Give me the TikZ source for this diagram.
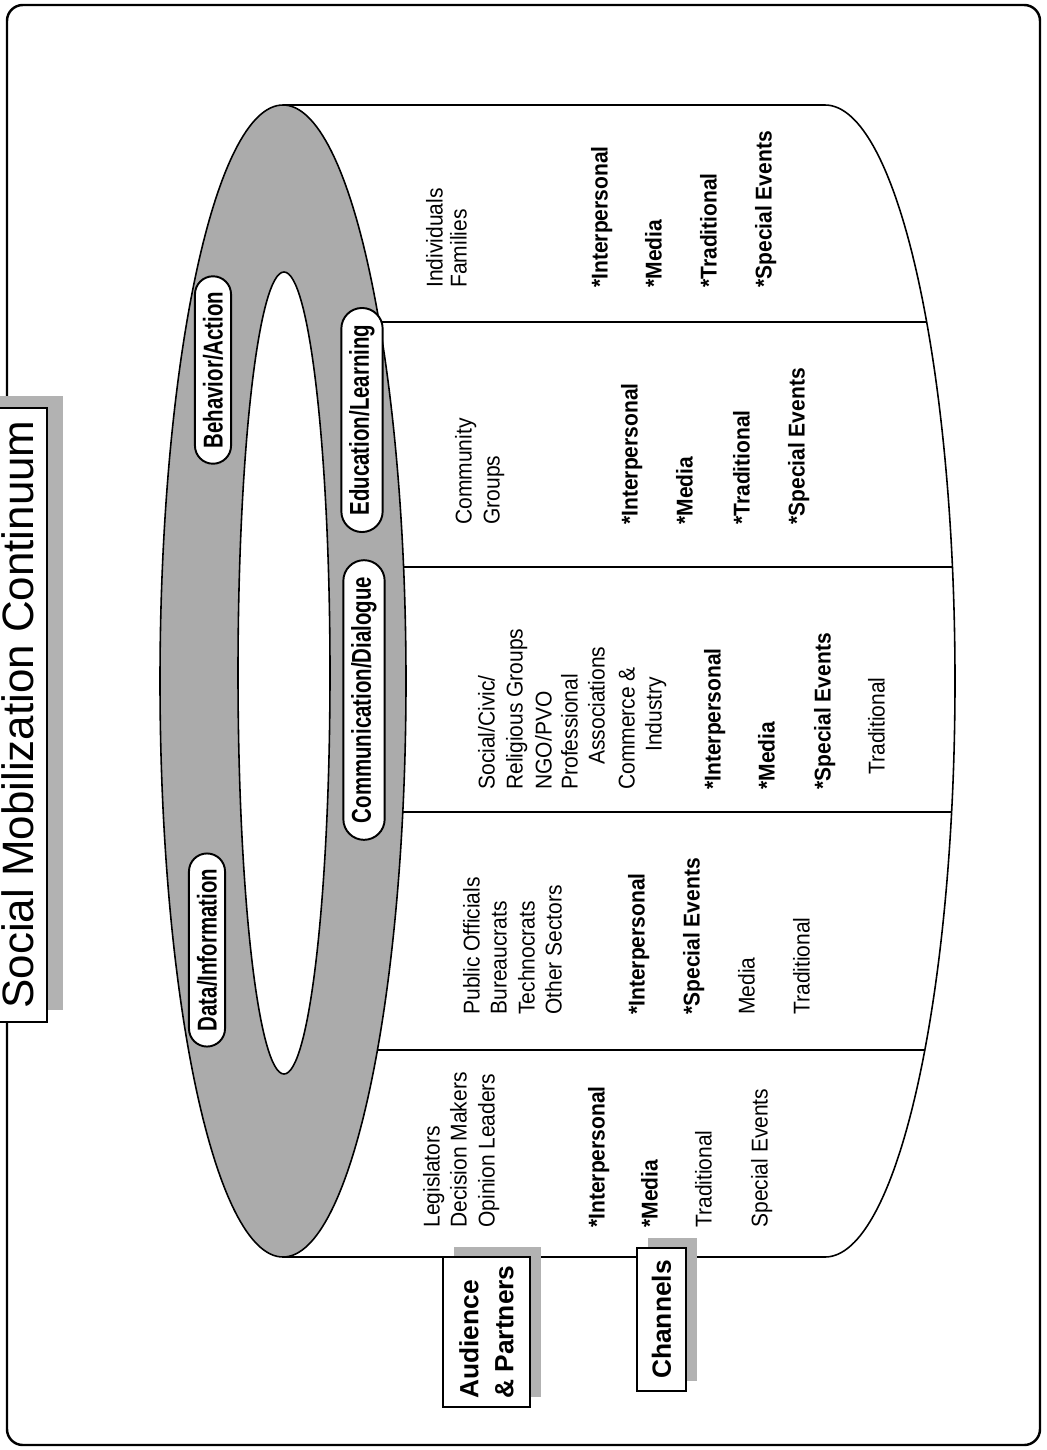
\documentclass[tikz,border=0pt]{standalone}
\usepackage{fontspec}
\setmainfont{Liberation Sans}
\newfontfamily\bodyf[FakeStretch=0.92]{Liberation Sans}
\newfontfamily\labf[FakeStretch=0.75]{Liberation Sans}
\usetikzlibrary{shapes.misc}
\begin{document}
\begin{tikzpicture}[x=0.02cm,y=-0.02cm,
  every node/.style={inner sep=0pt},
  txt/.style={rotate=90,anchor=mid west,font=\bodyf\fontsize{13}{15}\selectfont},
  btxt/.style={txt,font=\bodyf\bfseries\fontsize{13}{15}\selectfont},
  ringlab/.style={rotate=90,rounded rectangle,draw,line width=1.1pt,fill=white,
     inner xsep=7pt,inner ysep=4.5pt,font=\labf\bfseries\fontsize{15.5}{18}\selectfont},
  tagtxt/.style={rotate=90,align=left,font=\bfseries\fontsize{15}{20}\selectfont},
  shadowfill/.style={fill=black!30},
  ringfill/.style={fill=black!33},
  outline/.style={line width=0.9pt},
]
\useasboundingbox (0,0) rectangle (1046,1450);
% frame
\draw[line width=1.4pt,rounded corners=9pt] (7,5) rectangle (1040,1445);
% title box
\fill[shadowfill] (-14,396) rectangle (63,1010);
\draw[line width=1.3pt,fill=white] (-30,408) rectangle (47,1022);
\node[rotate=90,anchor=base west,font=\fontsize{25}{30}\selectfont] (title) at (33,1009) {Social Mobilization Continuum};
% cylinder body
\draw[outline,fill=white] (283,105) -- (825,105) arc[start angle=-90,end angle=90,x radius=130,y radius=576] -- (283,1257);
% segment lines
\coordinate (a1) at (379.2,322); \coordinate (b1) at (926.7,322);
\coordinate (a2) at (403.6,567); \coordinate (b2) at (952.4,567);
\coordinate (a3) at (402.8,812); \coordinate (b3) at (951.6,812);
\coordinate (a4) at (377.4,1050); \coordinate (b4) at (924.8,1050);
\draw[outline] (a1)--(b1) (a2)--(b2) (a3)--(b3) (a4)--(b4);
% ring
\fill[ringfill,even odd rule] (283,681) ellipse [x radius=123,y radius=576] (284,673) ellipse [x radius=46,y radius=401];
\draw[outline] (283,681) ellipse [x radius=123,y radius=576];
\draw[outline] (284,673) ellipse [x radius=46,y radius=401];
% ring labels
\node[ringlab] (beh) at (213,370) {Behavior/Action};
\node[ringlab] (dat) at (207,950) {Data/Information};
\node[ringlab] (edu) at (362,420) {Education/Learning};
\node[ringlab] (com) at (364,700) {Communication/Dialogue};
% segment 1
\node[txt] (s1a) at (438,288) {Individuals};
\node[txt] (s1b) at (462,288) {Families};
\node[btxt] (s1c) at (603,288) {*Interpersonal};
\node[btxt] (s1d) at (657,288) {*Media};
\node[btxt] (s1e) at (712,288) {*Traditional};
\node[btxt] (s1f) at (767,288) {*Special Events};
% segment 2
\node[txt] (s2a) at (467,525) {Community};
\node[txt] (s2b) at (495,525) {Groups};
\node[btxt] (s2c) at (633,525) {*Interpersonal};
\node[btxt] (s2d) at (688,525) {*Media};
\node[btxt] (s2e) at (745,525) {*Traditional};
\node[btxt] (s2f) at (800,525) {*Special Events};
% segment 3
\node[txt] (s3a) at (490,790) {Social/Civic/};
\node[txt] (s3b) at (518,790) {Religious Groups};
\node[txt] (s3c) at (547,790) {NGO/PVO};
\node[txt] (s3d) at (573,790) {Professional};
\node[txt] (s3e) at (600,765) {Associations};
\node[txt] (s3f) at (630,790) {Commerce \&};
\node[txt] (s3g) at (657,752) {Industry};
\node[btxt] (s3h) at (716,790) {*Interpersonal};
\node[btxt] (s3i) at (770,790) {*Media};
\node[btxt] (s3j) at (826,790) {*Special Events};
\node[txt] (s3k) at (880,775) {Traditional};
% segment 4
\node[txt] (s4a) at (475,1015) {Public Officials};
\node[txt] (s4b) at (502,1015) {Bureaucrats};
\node[txt] (s4c) at (530,1015) {Technocrats};
\node[txt] (s4d) at (557,1015) {Other Sectors};
\node[btxt] (s4e) at (640,1015) {*Interpersonal};
\node[btxt] (s4f) at (695,1015) {*Special Events};
\node[txt] (s4g) at (750,1015) {Media};
\node[txt] (s4h) at (805,1015) {Traditional};
% segment 5
\node[txt] (s5a) at (435,1228) {Legislators};
\node[txt] (s5b) at (462,1228) {Decision Makers};
\node[txt] (s5c) at (490,1228) {Opinion Leaders};
\node[btxt] (s5d) at (600,1228) {*Interpersonal};
\node[btxt] (s5e) at (653,1228) {*Media};
\node[txt] (s5f) at (707,1228) {Traditional};
\node[txt] (s5g) at (763,1228) {Special Events};
% audience box
\fill[shadowfill] (454,1247) rectangle (541,1397);
\draw[line width=1.2pt,fill=white] (443,1257) rectangle (530,1407);
\node[tagtxt] (aud) at (486.5,1332) {Audience\\\& Partners};
% channels box
\fill[shadowfill] (648,1238) rectangle (697,1381);
\draw[line width=1.2pt,fill=white] (637,1248) rectangle (686,1391);
\node[tagtxt] (chan) at (661.5,1319.5) {Channels};
\end{tikzpicture}
\end{document}
